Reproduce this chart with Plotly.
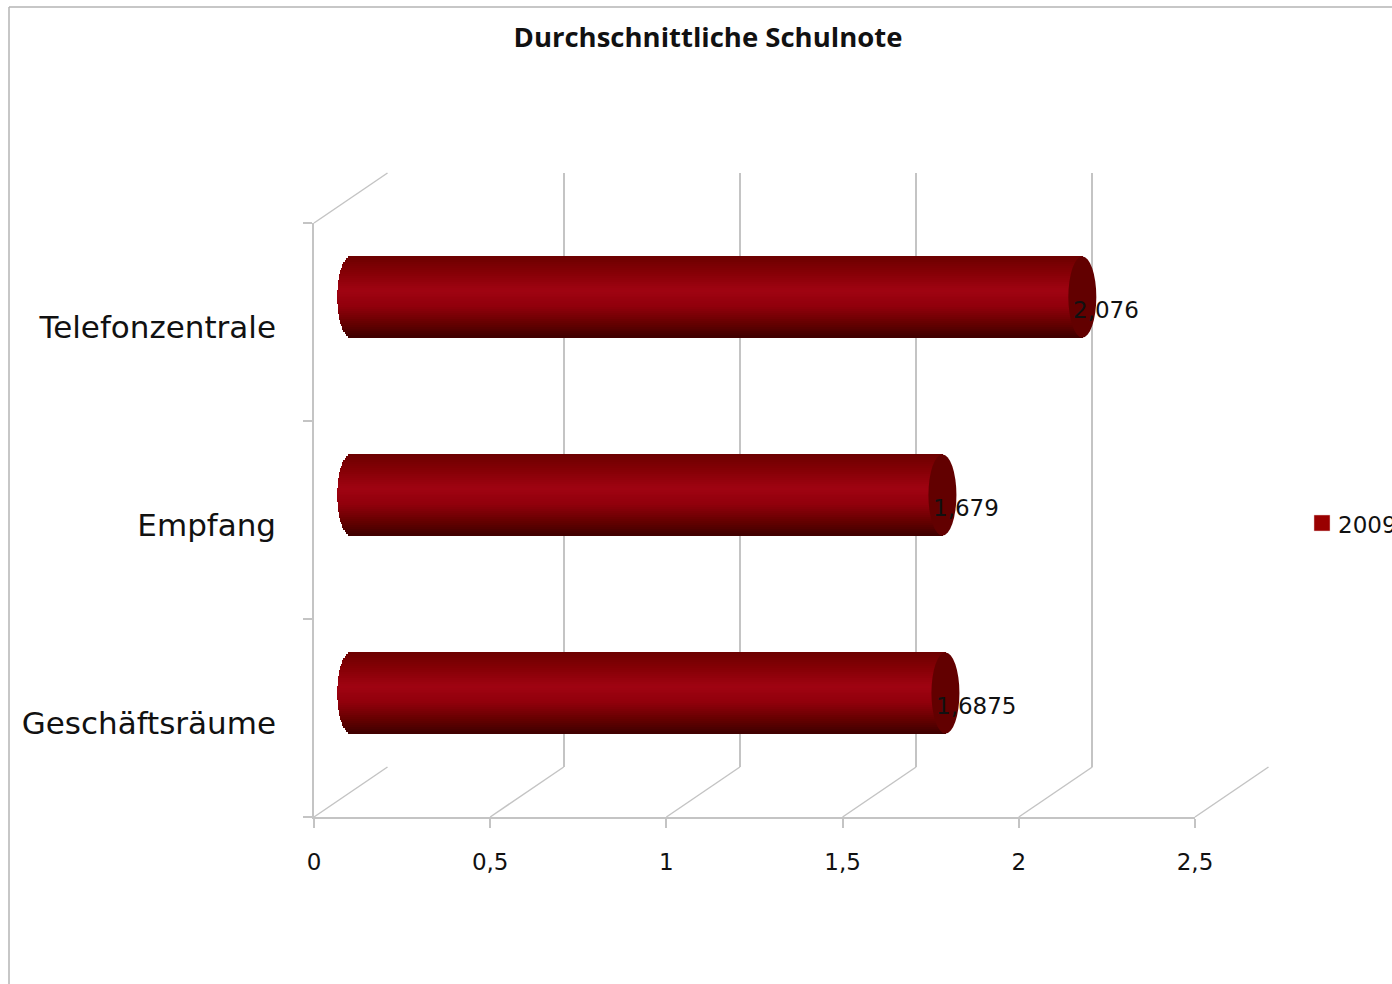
import plotly.graph_objects as go
import numpy as np

categories = ["Geschäftsräume", "Empfang", "Telefonzentrale"]
values = [1.6875, 1.679, 2.076]
value_labels = ["1,6875", "1,679", "2,076"]
x_ticks = [0, 0.5, 1, 1.5, 2, 2.5]
x_ticktext = ["0", "0,5", "1", "1,5", "2", "2,5"]
series_name = "2009"

W, H = 1392, 984
GREY = "#c4c4c4"
TXT = "#111111"
LAB_FONT = "DejaVu Sans"


def fx(p):
    return p / W


def fy(p):
    return 1 - p / H


X0, X1 = 314, 1195  # front plane pixels
Y0, Y1 = 223, 817
DX, DY = 73.5, -50  # depth
pad = 0.1 * (X1 - X0) / 2.5

# gradient across the cylinder (position 0 top -> 1 bottom)
stops = [(0, (108, 0, 0)), (0.2, (134, 0, 6)), (0.42, (160, 4, 18)), (0.62, (146, 0, 12)),
         (0.85, (98, 0, 0)), (1, (64, 0, 0))]
N = 41
bar_h = 81 / ((Y1 - Y0) / 3)
cap_a = 14 * 2.5 / (X1 - X0)


def color_at(t):
    c = [np.interp(t, [s[0] for s in stops], [s[1][k] for s in stops]) for k in range(3)]
    return "rgb(%d,%d,%d)" % tuple(c)


fig = go.Figure()
fig.add_trace(go.Scatter(x=[0], y=[categories[0]], xaxis="x", yaxis="y", mode="markers",
                         marker=dict(opacity=0), showlegend=False, hoverinfo="skip"))
fig.add_trace(go.Scatter(x=[0], y=[0], xaxis="x2", yaxis="y2", mode="markers",
                         marker=dict(opacity=0), showlegend=False, hoverinfo="skip"))

for i in range(N):
    t = (i + 0.5) / N
    u = 2 * t - 1
    base = -cap_a * np.sqrt(max(0, 1 - u * u))
    off = bar_h / 2 - (i + 1) / N * bar_h
    fig.add_trace(go.Bar(
        y=categories, x=[v - base for v in values], base=[base] * 3, orientation="h",
        width=bar_h / N * 1.25, offset=off, xaxis="x3", yaxis="y3",
        marker=dict(color=color_at(t), line=dict(width=0)),
        showlegend=False, hoverinfo="skip"))

shapes = []
for k, v in enumerate(values):
    shapes.append(dict(type="circle", xref="x3", yref="y3", layer="above",
                       x0=v - cap_a, x1=v + cap_a, y0=k - bar_h / 2, y1=k + bar_h / 2,
                       fillcolor="#620000", line=dict(width=0)))

# floor and side-wall diagonals
scale = (X1 - X0) / 2.5
for t in x_ticks:
    px = X0 + t * scale
    shapes.append(dict(type="line", xref="paper", yref="paper", layer="below",
                       x0=fx(px), y0=fy(Y1), x1=fx(px + DX), y1=fy(Y1 + DY),
                       line=dict(color=GREY, width=1.5)))
shapes.append(dict(type="line", xref="paper", yref="paper", layer="below",
                   x0=fx(X0), y0=fy(Y0), x1=fx(X0 + DX), y1=fy(Y0 + DY),
                   line=dict(color=GREY, width=1.5)))
# chart frame
shapes.append(dict(type="line", xref="paper", yref="paper", x0=fx(9), y0=fy(7), x1=fx(9), y1=0,
                   line=dict(color="#b5b5b5", width=1.5)))
shapes.append(dict(type="line", xref="paper", yref="paper", x0=fx(9), y0=fy(7), x1=1, y1=fy(7),
                   line=dict(color="#b5b5b5", width=1.5)))
# legend swatch (the reference's legend runs off the right edge of the picture)
shapes.append(dict(type="rect", xref="paper", yref="paper", x0=fx(1314), x1=fx(1330), y0=fy(531), y1=fy(515),
                   fillcolor="#990000", line=dict(color="#e8c8c8", width=0.5)))

annotations = [dict(xref="x3", yref="y3", x=v, y=k, text=value_labels[k], showarrow=False,
                    xanchor="left", xshift=-11, yshift=-13,
                    font=dict(family=LAB_FONT, size=23, color=TXT))
               for k, v in enumerate(values)]
annotations.append(dict(xref="paper", yref="paper", x=fx(1336), y=fy(525), text=series_name, showarrow=False,
                        xanchor="left", yanchor="middle", font=dict(family=LAB_FONT, size=23, color=TXT)))

fig.update_layout(
    template="none",
    width=W, height=H, autosize=False,
    margin=dict(l=0, r=0, t=0, b=0),
    showlegend=False,
    paper_bgcolor="white", plot_bgcolor="rgba(0,0,0,0)",
    barmode="overlay",
    bargap=0,
    title=dict(text="<b>Durchschnittliche Schulnote</b>", x=708 / W, xanchor="center", y=fy(37), yanchor="middle",
               font=dict(family="Open Sans", size=27.5, color="#111111")),
    xaxis=dict(domain=[fx(X0), fx(X1)], range=[0, 2.5], tickvals=x_ticks, ticktext=x_ticktext,
               anchor="y", showgrid=False, showline=True, linecolor=GREY, linewidth=1.5, automargin=False,
               ticks="outside", ticklen=9, tickcolor=GREY, tickwidth=1.5, zeroline=False,
               ticklabelstandoff=15, tickfont=dict(family=LAB_FONT, size=23, color=TXT)),
    yaxis=dict(domain=[fy(Y1), fy(Y0)], type="category", categoryorder="array", categoryarray=categories,
               range=[-0.5, 2.5], anchor="x", tickson="boundaries", showgrid=False, showline=True, linecolor=GREY,
               linewidth=1.5, ticks="outside", ticklen=9, tickcolor=GREY, tickwidth=1.5, automargin=False,
               ticklabelstandoff=30, ticklabelshift=5, tickfont=dict(family=LAB_FONT, size=31, color=TXT)),
    xaxis2=dict(domain=[fx(X0 + DX), fx(X1 + DX)], range=[0, 2.5], tickvals=x_ticks, anchor="y2", automargin=False,
                showgrid=True, gridcolor=GREY, gridwidth=1.5, zeroline=False, showticklabels=False, ticks=""),
    yaxis2=dict(domain=[fy(Y1 + DY), fy(Y0 + DY)], range=[0, 1], anchor="x2", showgrid=False, zeroline=False,
                showticklabels=False, ticks="", automargin=False),
    xaxis3=dict(domain=[fx(X0 + DX / 2 - pad), fx(X1 + DX / 2 + pad)], range=[-0.1, 2.6], anchor="y3", visible=False,
                automargin=False),
    yaxis3=dict(domain=[fy(Y1 + DY / 2), fy(Y0 + DY / 2)], type="category", categoryorder="array",
                categoryarray=categories, range=[-0.5, 2.5], anchor="x3", visible=False, automargin=False),
    shapes=shapes,
    annotations=annotations,
)

fig.write_html("out.html", config=dict(displayModeBar=False),
               post_script="document.body.style.margin='0';document.body.style.overflow='hidden';")
